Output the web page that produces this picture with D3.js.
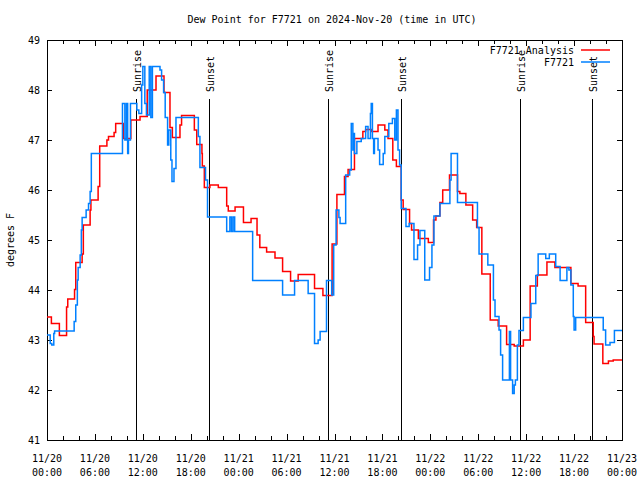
<!DOCTYPE html>
<html>
<head>
<meta charset="utf-8">
<script src="https://cdn.jsdelivr.net/npm/d3@7"></script>
<style>
  html, body { margin: 0; padding: 0; background: #fff; }
  svg { display: block; }
  text { font-family: "DejaVu Sans Mono", monospace; font-size: 10px; fill: #000; }
</style>
</head>
<body>
<svg id="chart" width="640" height="480"></svg>
<script>
// ---- Data (hours after 2024-11-20 00:00 UTC, dew point in °F) ----
const analysisHours = [0,0.55,1.55,2.45,2.6,3.45,3.6,4.4,4.55,5.4,5.5,6.4,6.6,7.5,7.7,8.4,8.6,9.55,10.5,11.65,12.55,13.65,14.65,15.4,15.7,16.65,16.85,18.45,18.75,19.4,19.45,19.7,20.4,21.45,22.5,22.7,23.55,24.6,25.55,26.3,26.65,27.5,28.55,29.5,30.5,31.45,33.5,34.55,35.7,36.3,37.25,37.7,38.5,39.55,39.9,40.6,41.45,42.3,42.7,43.3,43.75,44.35,44.6,45.4,45.65,46.5,47.75,48.4,48.7,49.2,49.55,50.4,51.4,51.7,52.45,53.3,53.8,54.45,55.5,56.5,57.55,58.5,59.65,60.5,61.4,62.6,63.6,65.6,66.5,67.45,68.4,68.5,69.6,70.3,70.9,72];
const analysisValues = [43.46,43.33,43.09,43.66,43.82,44.01,44.55,44.72,45.3,45.6,45.8,46.07,46.88,47.0,47.07,47.15,47.33,47.03,47.4,47.47,48.0,48.28,47.95,47.25,47.05,47.3,47.49,47.2,46.91,46.73,46.48,46.05,46.1,46.05,45.68,45.58,45.66,45.35,45.43,45.1,44.85,44.76,44.64,44.37,44.18,44.31,44.03,43.89,44.92,45.91,46.27,46.41,47.03,47.17,47.21,47.17,47.3,47.2,47.03,46.6,46.47,45.8,45.61,45.33,45.2,45.03,44.95,45.4,45.48,45.75,46.0,46.3,45.97,45.93,45.7,45.4,45.25,44.32,43.4,43.28,42.91,42.88,43.0,44.08,44.3,44.56,44.45,44.13,44.08,43.35,43.07,42.92,42.53,42.58,42.6,42.6];

const stationHours = [0,0.4,0.6,0.85,0.95,3.4,3.6,3.8,3.9,4.15,4.3,4.4,4.9,5.2,5.4,5.55,9.45,9.75,9.95,10.1,10.2,10.45,11.25,11.5,11.85,12.0,12.25,12.45,12.8,13.0,13.2,14.15,14.35,14.6,14.8,15.1,15.25,15.5,15.65,15.9,16.15,18.95,19.15,19.85,20.1,22.5,22.9,23.1,23.3,23.5,25.75,29.5,31.0,32.7,33.5,33.95,34.2,35.0,35.65,35.9,36.2,36.55,36.7,37.4,37.9,38.1,38.3,38.4,38.5,38.8,39.35,39.9,40.2,40.5,40.6,40.75,40.9,41.0,41.45,41.65,42.1,42.3,42.8,43.25,43.55,43.75,43.95,44.15,44.35,44.95,45.35,45.95,46.4,46.7,47.3,47.9,48.2,48.45,49.2,50.45,50.6,51.4,53.9,54.1,55.2,55.9,56.1,56.6,56.8,57.05,57.9,58.05,58.3,58.5,58.65,58.9,59.1,59.65,60.6,61.2,61.5,62.45,62.9,63.7,64.25,65.1,65.35,65.6,65.9,66.0,66.2,69.65,69.95,70.5,71.05,72];
const stationValues = [43.1,42.93,42.9,43.13,43.18,43.37,43.7,44.2,44.45,44.7,45.2,45.45,45.6,45.73,45.97,46.73,47.73,47.0,47.73,46.73,47.0,47.73,47.6,47.53,48.1,48.47,47.73,47.5,48.47,47.45,48.47,48.4,48.2,47.95,47.45,46.9,47.2,46.6,46.17,46.43,47.45,47.07,46.45,46.2,45.46,45.17,45.46,45.17,45.46,45.17,44.19,43.9,44.19,43.93,42.93,43.0,43.17,44.19,43.9,44.9,45.6,45.45,45.33,46.3,46.4,47.33,46.8,47.13,46.73,46.97,47.03,47.27,47.03,47.53,47.73,47.03,46.73,47.03,46.8,46.51,46.73,47.07,47.33,47.43,47.0,47.6,46.8,46.5,45.63,45.27,45.33,44.61,44.9,45.19,44.2,44.45,44.9,45.48,45.73,46.2,46.73,45.75,45.25,44.72,44.5,43.8,43.47,43.2,42.7,42.2,43.17,42.2,41.93,42.1,42.2,42.9,43.19,43.45,43.73,44.29,44.72,44.63,44.72,44.47,44.19,44.45,44.4,44.1,43.47,43.2,43.45,43.2,42.9,42.95,43.19,43.19];

const sunEventHours = [11.18, 20.32, 35.22, 44.36, 59.27, 68.28];
const sunEventLabels = ["Sunrise", "Sunset", "Sunrise", "Sunset", "Sunrise", "Sunset"];

const yTicks = [41, 42, 43, 44, 45, 46, 47, 48, 49];
const seriesNames = ["F7721 Analysis", "F7721"];
const seriesColors = ["#ff0000", "#0080ff"];
const titleText = "Dew Point for F7721 on 2024-Nov-20 (time in UTC)";
const yLabelText = "degrees F";

// ---- Layout ----
const m = { left: 47, right: 622, top: 40, bottom: 440 };
const t0 = Date.UTC(2024, 10, 20, 0, 0);
const toDate = h => new Date(t0 + h * 3600000);

const svg = d3.select("#chart");
const x = d3.scaleUtc().domain([toDate(0), toDate(72)]).range([m.left, m.right]);
const y = d3.scaleLinear().domain([41, 49]).range([m.bottom, m.top]);

// Axes
const majorTicks = d3.utcHour.every(6).range(toDate(0), toDate(72.01));
const minorTicks = d3.utcHour.every(2).range(toDate(0), toDate(72.01));

function styleAxis(g) {
  g.select(".domain").remove();
  g.selectAll("line").attr("stroke", "#000").attr("stroke-width", 1).attr("shape-rendering", "crispEdges");
}
svg.append("g").attr("transform", `translate(0,${m.bottom})`)
  .call(d3.axisBottom(x).tickValues(minorTicks).tickSize(-4).tickFormat("")).call(styleAxis);
svg.append("g").attr("transform", `translate(0,${m.top})`)
  .call(d3.axisTop(x).tickValues(minorTicks).tickSize(-4).tickFormat("")).call(styleAxis);
svg.append("g").attr("transform", `translate(0,${m.bottom})`)
  .call(d3.axisBottom(x).tickValues(majorTicks).tickSize(-6).tickFormat("")).call(styleAxis);
svg.append("g").attr("transform", `translate(0,${m.top})`)
  .call(d3.axisTop(x).tickValues(majorTicks).tickSize(-6).tickFormat("")).call(styleAxis);

const yl = svg.append("g").attr("transform", `translate(${m.left},0)`)
  .call(d3.axisLeft(y).tickValues(yTicks).tickSize(-5).tickPadding(7).tickFormat(d3.format("d")));
yl.call(styleAxis);
yl.selectAll("text").attr("font-family", "DejaVu Sans Mono").attr("font-size", 10).attr("fill", "#000");
svg.append("g").attr("transform", `translate(${m.right},0)`)
  .call(d3.axisRight(y).tickValues(yTicks).tickSize(-5).tickFormat("")).call(styleAxis);

// x tick labels (two lines)
const fmtDate = d3.utcFormat("%m/%d"), fmtTime = d3.utcFormat("%H:%M");
const xl = svg.append("g");
majorTicks.forEach(d => {
  const t = xl.append("text").attr("text-anchor", "middle");
  t.append("tspan").attr("x", x(d)).attr("y", 462).text(fmtDate(d));
  t.append("tspan").attr("x", x(d)).attr("y", 476).text(fmtTime(d));
});

// Frame
svg.append("rect").attr("x", m.left + 0.5).attr("y", m.top + 0.5)
  .attr("width", m.right - m.left).attr("height", m.bottom - m.top)
  .attr("fill", "none").attr("stroke", "#000").attr("stroke-width", 1);

// Sunrise / sunset lines
const sun = svg.append("g");
sunEventHours.forEach((h, i) => {
  const xx = Math.round(x(toDate(h))) + 0.5;
  sun.append("line").attr("x1", xx).attr("x2", xx).attr("y1", 99).attr("y2", m.bottom)
    .attr("stroke", "#000").attr("stroke-width", 1);
  sun.append("text").attr("transform", `translate(${xx + 4.5},92) rotate(-90)`)
    .attr("text-anchor", "start").text(sunEventLabels[i]);
});

// Series
const line = d3.line().curve(d3.curveStepAfter).x(d => x(toDate(d[0]))).y(d => y(d[1]));
const redData = analysisHours.map((h, i) => [h, analysisValues[i]]);
const blueData = stationHours.map((h, i) => [h, stationValues[i]]);
svg.append("path").datum(redData).attr("d", line).attr("fill", "none")
  .attr("stroke", seriesColors[0]).attr("stroke-width", 1.5);
svg.append("path").datum(blueData).attr("d", line).attr("fill", "none")
  .attr("stroke", seriesColors[1]).attr("stroke-width", 1.5);

// Legend
seriesNames.forEach((name, i) => {
  const ly = 50 + i * 12;
  svg.append("text").attr("x", 574).attr("y", ly + 3.5).attr("text-anchor", "end").text(name);
  svg.append("line").attr("x1", 581).attr("x2", 610).attr("y1", ly).attr("y2", ly)
    .attr("stroke", seriesColors[i]).attr("stroke-width", 1.5);
});

// Title and y label
svg.append("text").attr("x", 332).attr("y", 23).attr("text-anchor", "middle").text(titleText);
svg.append("text").attr("transform", "translate(14,240) rotate(-90)").attr("text-anchor", "middle").text(yLabelText);
</script>
</body>
</html>
